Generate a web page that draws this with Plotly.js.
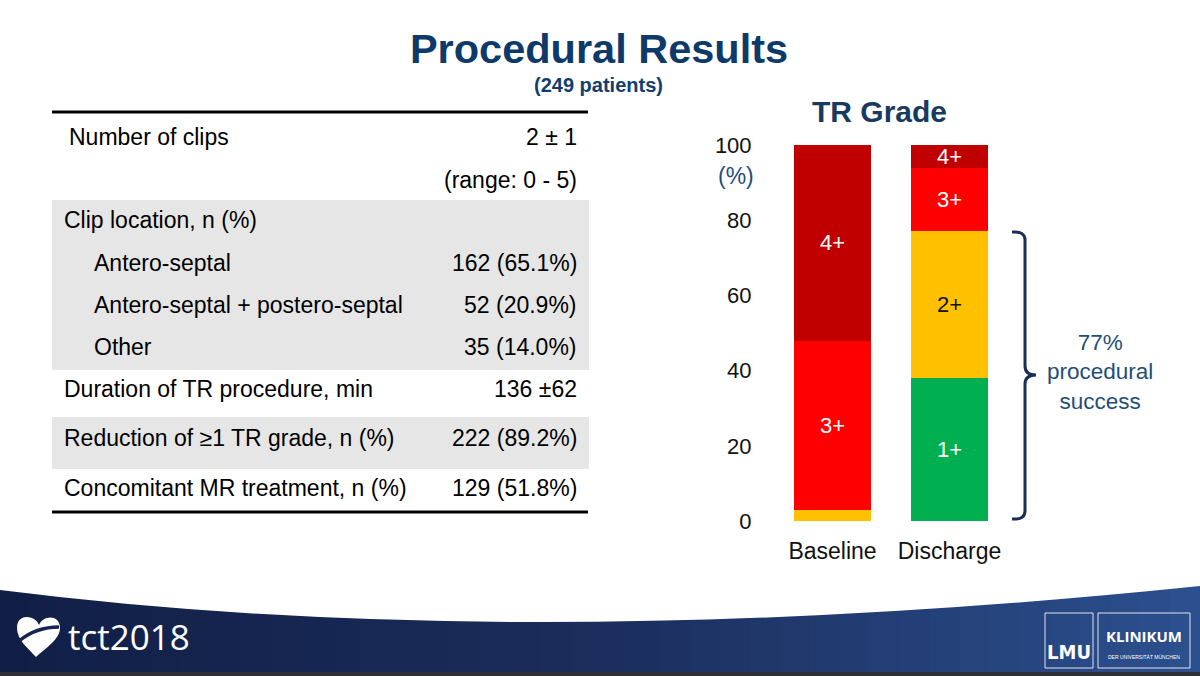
<!DOCTYPE html>
<html>
<head>
<meta charset="utf-8">
<script src="https://cdn.plot.ly/plotly-3.0.1.min.js"></script>
<style>html,body{margin:0;padding:0;background:#fff;}#chart{width:1200px;height:676px;}</style>
</head>
<body>
<div id="chart"></div>
<script>
// ---------- data ----------
const categories = ['Baseline', 'Discharge'];
const gradeNames = ['1+', '2+', '3+', '4+'];
const grade1 = [0, 38];
const grade2 = [3, 39];
const grade3 = [45, 17];
const grade4 = [52, 6];
const yTickVals = [0, 20, 40, 60, 80, 100];

const rowLabels = ['Number of clips', '', 'Clip location, n (%)', 'Antero-septal',
  'Antero-septal + postero-septal', 'Other', 'Duration of TR procedure, min',
  'Reduction of \u22651 TR grade, n (%)', 'Concomitant MR treatment, n (%)'];
const rowValues = ['2 \u00b1 1', '(range: 0 - 5)', '', '162 (65.1%)', '52 (20.9%)',
  '35 (14.0%)', '136 \u00b162', '222 (89.2%)', '129 (51.8%)'];
const rowIndent = [1, 0, 0, 2, 2, 2, 0, 0, 0];
const successText = '77%<br>procedural<br>success';

// ---------- layout helpers ----------
const W = 1200, H = 676;
const FONT = 'Liberation Sans, Arial, sans-serif';
const px = x => x / W;
const py = y => 1 - y / H;
function pathPx(d) {
  return d.replace(/(-?\d+(?:\.\d+)?),(-?\d+(?:\.\d+)?)/g,
    (m, a, b) => px(+a).toFixed(5) + ',' + py(+b).toFixed(5));
}
function note(x, y, text, font, xanchor) {
  return {xref: 'paper', yref: 'paper', x: px(x), y: py(y), text: text, showarrow: false,
    xanchor: xanchor || 'center', yanchor: 'middle', align: 'center', font: font};
}
const rowY = [137, 180, 220, 263, 305, 347, 389, 438, 488];
const indentX = [62, 67, 92];

const colors = ['#00B050', '#FFC000', '#FF0000', '#C00000'];
const textColors = ['#ffffff', '#111111', '#ffffff', '#ffffff'];
const series = [grade1, grade2, grade3, grade4];

const traces = series.map((vals, i) => ({
  type: 'bar',
  name: gradeNames[i],
  x: categories,
  y: vals,
  text: vals.map(v => v >= 5 ? gradeNames[i] : ''),
  textposition: 'inside',
  insidetextanchor: 'middle',
  constraintext: 'none',
  textangle: 0,
  textfont: {family: FONT, size: 22, color: textColors[i]},
  marker: {color: colors[i], line: {width: 0}},
  hoverinfo: 'skip'
}));

const shapes = [];
const annotations = [];

// table backgrounds
[[200, 370], [417, 469]].forEach(([y0, y1]) => shapes.push({
  type: 'rect', xref: 'paper', yref: 'paper', x0: px(52), x1: px(589), y0: py(y1), y1: py(y0),
  fillcolor: '#e6e6e6', line: {width: 0}, layer: 'below'
}));
// table rules
[112, 512].forEach(y => shapes.push({
  type: 'line', xref: 'paper', yref: 'paper', x0: px(52), x1: px(588), y0: py(y), y1: py(y),
  line: {color: '#000', width: 3}
}));
const tableFont = {family: FONT, size: 23, color: '#000'};
rowLabels.forEach((lab, i) => {
  if (lab) annotations.push(note(indentX[rowIndent[i]], rowY[i], lab, tableFont, 'left'));
  if (rowValues[i]) annotations.push(note(579, rowY[i], rowValues[i], tableFont, 'right'));
});

// sub title & chart title
annotations.push(note(598, 85, '<b>(249 patients)</b>', {family: FONT, size: 20, color: '#123e6e'}));
annotations.push(note(880, 112, '<b>TR Grade</b>', {family: FONT, size: 30, color: '#173a5e'}));
annotations.push(note(736, 176, '(%)', {family: FONT, size: 23, color: '#1f4e79'}));

// bracket
shapes.push({type: 'path', xref: 'paper', yref: 'paper',
  path: pathPx('M 1012,232 Q 1025,231 1025,240 L 1025,366 Q 1025,375 1036,375 Q 1025,375 1025,384 L 1025,511 Q 1025,520 1012,519'),
  line: {color: '#1b2f56', width: 3}});
annotations.push(note(1100, 372, successText, {family: FONT, size: 22.5, color: '#1f4e79'}));

// footer gradient strips
const left = [17, 31, 70], mid = [27, 45, 92], right = [44, 80, 143];
const nStrips = 40;
for (let k = 0; k < nStrips; k++) {
  const t = (k + 0.5) / nStrips;
  let c;
  if (t < 0.5) { const u = t / 0.5; c = left.map((v, j) => Math.round(v + (mid[j] - v) * u)); }
  else { const u = (t - 0.5) / 0.5; c = mid.map((v, j) => Math.round(v + (right[j] - v) * u)); }
  shapes.push({type: 'rect', xref: 'paper', yref: 'paper',
    x0: px(k * W / nStrips), x1: px((k + 1) * W / nStrips + 1), y0: py(676), y1: py(578),
    fillcolor: 'rgb(' + c.join(',') + ')', line: {width: 0}, layer: 'below'});
}
shapes.push({type: 'path', xref: 'paper', yref: 'paper',
  path: pathPx('M 0,590 Q 520,656 1200,586 L 1200,570 L 0,570 Z'),
  fillcolor: '#ffffff', line: {width: 0}, layer: 'below'});
shapes.push({type: 'rect', xref: 'paper', yref: 'paper', x0: 0, x1: 1, y0: 0, y1: py(672),
  fillcolor: '#2e3035', line: {width: 0}, layer: 'below'});

// tct logo
shapes.push({type: 'path', xref: 'paper', yref: 'paper',
  path: pathPx('M 39,625 C 35,615 17,613 17,628 C 17,640 28,648 36,657 C 46,648 60,639 60,628 C 60,614 43,615 39,625 Z'),
  fillcolor: '#ffffff', line: {width: 0}});
shapes.push({type: 'path', xref: 'paper', yref: 'paper',
  path: pathPx('M 19,641 Q 36,627 59,627'),
  line: {color: '#15254f', width: 3.5}});
annotations.push(note(66, 636, 'tct2018', {family: 'Open Sans, sans-serif', size: 35, color: '#ffffff'}, 'left'));

// LMU logo
[[1045, 1093], [1098, 1190]].forEach(([x0, x1]) => shapes.push({
  type: 'rect', xref: 'paper', yref: 'paper', x0: px(x0), x1: px(x1), y0: py(668), y1: py(613),
  line: {color: 'rgba(255,255,255,0.85)', width: 1}
}));
annotations.push(note(1069, 652, '<b>LMU</b>', {family: 'DejaVu Sans Condensed, Liberation Sans Narrow, sans-serif', size: 20, color: '#ffffff'}));
annotations.push(note(1144, 636, '<b>KLINIKUM</b>', {family: 'Open Sans, sans-serif', size: 15, color: '#ffffff'}));
annotations.push(note(1144, 657, 'DER UNIVERSITÄT MÜNCHEN', {family: FONT, size: 5, color: '#ffffff'}));

const layout = {
  width: W, height: H,
  margin: {l: 0, r: 0, t: 0, b: 0},
  paper_bgcolor: '#ffffff', plot_bgcolor: 'rgba(0,0,0,0)',
  showlegend: false,
  barmode: 'stack',
  bargap: 0.342,
  title: {text: '<b>Procedural Results</b>', x: px(599), xref: 'paper', xanchor: 'center',
    y: py(48), yref: 'paper', yanchor: 'middle',
    font: {family: FONT, size: 41.5, color: '#0e3a6a'}},
  xaxis: {domain: [px(774), px(1008)], range: [-0.5, 1.5], type: 'category',
    showgrid: false, zeroline: false, showline: false,
    ticks: 'outside', ticklen: 9, tickcolor: 'rgba(0,0,0,0)',
    tickfont: {family: FONT, size: 23, color: '#111'}, fixedrange: true},
  yaxis: {domain: [py(521), py(145)], range: [0, 100], tickvals: yTickVals,
    showgrid: false, zeroline: false, showline: false,
    ticks: 'outside', ticklen: 17, tickcolor: 'rgba(0,0,0,0)',
    tickfont: {family: FONT, size: 22, color: '#111'}, fixedrange: true},
  shapes: shapes,
  annotations: annotations,
  hovermode: false
};

Plotly.newPlot('chart', traces, layout, {displayModeBar: false, staticPlot: true});
</script>
</body>
</html>
